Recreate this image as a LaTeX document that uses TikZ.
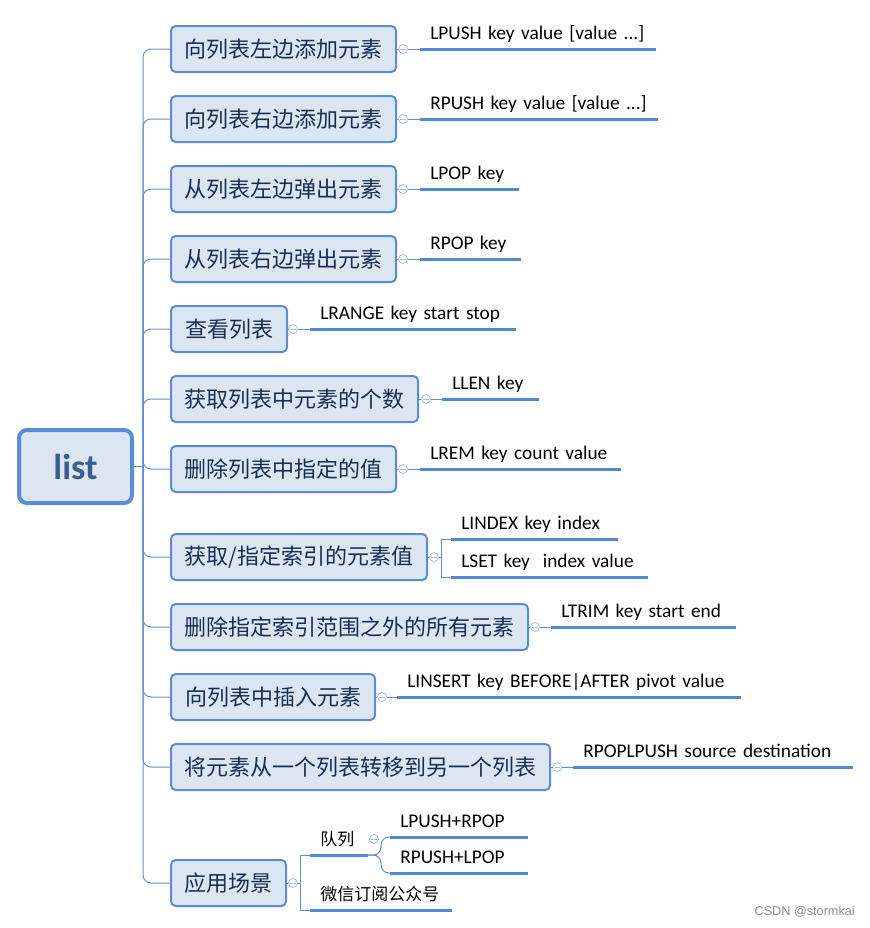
\documentclass[tikz,border=0pt]{standalone}
\usepackage{fontspec}
\setmainfont{Carlito}
\newfontfamily\cjk{Noto Sans CJK SC}
\newfontfamily\wmfont{Liberation Sans}
\definecolor{tblue}{HTML}{5A8DD3}
\definecolor{tfill}{HTML}{DCE6F2}
\definecolor{ttext}{HTML}{172F52}
\definecolor{roottext}{HTML}{3A5E8E}
\definecolor{ublue}{HTML}{5089D6}
\definecolor{cblue}{HTML}{5F90D4}
\definecolor{circblue}{HTML}{A9C0E6}
\tikzset{
  topic/.style={draw=tblue, fill=tfill, line width=1.5pt, rounded corners=3.5pt,
    minimum height=34.5pt, inner sep=0pt, anchor=west, text=ttext,
    font=\cjk\fontsize{16.5}{20}\selectfont},
  rootbox/.style={draw=tblue, fill=tfill, line width=3pt, rounded corners=6pt,
    minimum width=84.75pt, minimum height=54.75pt, inner sep=0pt, text=roottext,
    font=\bfseries\fontsize{27}{30}\selectfont},
  collapse/.style={circle, draw=circblue, line width=0.6pt, fill=white,
    minimum size=6.75pt, inner sep=0pt,
    path picture={\draw[circblue, line width=0.6pt]
      ([xshift=-2pt]path picture bounding box.center) --
      ([xshift=2pt]path picture bounding box.center);}},
  sub/.style={anchor=south west, inner xsep=7.5pt, inner ysep=7pt,
    text depth=0pt, align=left, text=black, font=\fontsize{14.5}{18}\selectfont},
  subcjk/.style={sub, font=\cjk\fontsize{12.75}{15}\selectfont},
  uline/.style={draw=ublue, line width=2.25pt},
  conn/.style={draw=cblue, line width=0.75pt},
  branch/.style={conn, rounded corners=6pt},
}
\newcommand\subtopic[6][sub]{%
  \pgfmathsetmacro\subw{(#4-#3-20)*0.75}%
  \node[#1, text width=\subw pt] (#2) at (#3,#5) {\mbox{#6}};
  \draw[uline] (#2.south west) -- (#2.south east);}
\begin{document}
\begin{tikzpicture}[x=0.75pt,y=-0.75pt]
\useasboundingbox[fill=white] (0,0) rectangle (870,928);

% root
\node[rootbox] (root) at (75.5,466.5) {list};
\coordinate (trunk) at (143,466.5);

% topics
\node[topic, minimum width=225*0.75pt] (n1) at (170,49) {向列表左边添加元素};
\node[topic, minimum width=225*0.75pt] (n2) at (170,119) {向列表右边添加元素};
\node[topic, minimum width=225*0.75pt] (n3) at (170,189) {从列表左边弹出元素};
\node[topic, minimum width=225*0.75pt] (n4) at (170,259) {从列表右边弹出元素};
\node[topic, minimum width=116*0.75pt] (n5) at (170,329) {查看列表};
\node[topic, minimum width=247*0.75pt] (n6) at (170,399) {获取列表中元素的个数};
\node[topic, minimum width=225*0.75pt] (n7) at (170,469) {删除列表中指定的值};
\node[topic, minimum width=256*0.75pt] (n8) at (170,557) {获取/指定索引的元素值};
\node[topic, minimum width=357*0.75pt] (n9) at (170,627) {删除指定索引范围之外的所有元素};
\node[topic, minimum width=204*0.75pt] (n10) at (170,697) {向列表中插入元素};
\node[topic, minimum width=379*0.75pt] (n11) at (170,767) {将元素从一个列表转移到另一个列表};
\node[topic, minimum width=115*0.75pt] (n12) at (170,883) {应用场景};

% trunk connectors
\draw[conn] (root.east) -- (trunk);
\foreach \n in {n1,n2,n3,n4,n5,n6,n7,n8,n9,n10,n11,n12}
  \draw[branch] (trunk) |- (\n.west);

% subtopics
\subtopic{s1}{420}{655}{49}{LPUSH key value [value ...]}
\subtopic{s2}{420}{657}{119}{RPUSH key value [value ...]}
\subtopic{s3}{420}{518}{189}{LPOP key}
\subtopic{s4}{420}{520}{259}{RPOP key}
\subtopic{s5}{310}{515}{329}{LRANGE key start stop}
\subtopic{s6}{442}{538}{399}{LLEN key}
\subtopic{s7}{420}{620}{469}{LREM key count value}
\subtopic{s8a}{451}{617}{539}{LINDEX key index}
\subtopic{s8b}{451}{647}{577}{LSET key\ \ index value}
\subtopic{s9}{551}{735}{627}{LTRIM key start end}
\subtopic{s10}{397}{740}{697}{LINSERT key BEFORE|AFTER pivot value}
\subtopic{s11}{573}{852}{767}{RPOPLPUSH source destination}
\subtopic[subcjk]{s12a}{310}{367}{855}{队列}
\subtopic{s12c}{390}{527}{837}{LPUSH+RPOP}
\subtopic{s12d}{390}{527}{873}{RPUSH+LPOP}
\subtopic[subcjk]{s12b}{310}{451}{910}{微信订阅公众号}

% collapse circles
\node[collapse] (c1) at (403,49) {};
\node[collapse] (c2) at (403,119) {};
\node[collapse] (c3) at (403,189) {};
\node[collapse] (c4) at (403,259) {};
\node[collapse] (c5) at (293,329) {};
\node[collapse] (c6) at (426,399) {};
\node[collapse] (c7) at (403,469) {};
\node[collapse] (c8) at (434,557) {};
\node[collapse] (c9) at (535,627) {};
\node[collapse] (c10) at (382,697) {};
\node[collapse] (c11) at (557.5,767) {};
\node[collapse] (c12) at (293,883) {};
\node[collapse] (cq) at (374,839) {};

% topic -> circle -> subtopic
\foreach \i in {1,...,12}
  \draw[conn] (n\i.east) -- (c\i.west);
\foreach \i in {1,...,7,9,10,11}
  \draw[conn] (c\i.east) -- (s\i.south west);

% bracket for n8
\coordinate (b8) at (441,557);
\draw[conn] (c8.east) -- (b8);
\draw[conn] (b8) |- (s8a.south west);
\draw[conn] (b8) |- (s8b.south west);

% bracket for n12
\coordinate (b12) at (300,883);
\draw[conn] (c12.east) -- (b12);
\draw[conn] (b12) |- (s12a.south west);
\draw[conn] (b12) |- (s12b.south west);

% queue split
\coordinate (bq) at (381,855);
\draw[conn, rounded corners=6pt] (s12a.south east) -- (bq) |- (s12c.south west);
\draw[conn, rounded corners=6pt] (s12a.south east) -- (bq) |- (s12d.south west);

% watermark
\node[font=\wmfont\fontsize{9.5}{11}\selectfont, text=black!45, anchor=east, inner sep=0pt]
  (wm) at (855,912) {CSDN @stormkai};
\end{tikzpicture}
\end{document}
